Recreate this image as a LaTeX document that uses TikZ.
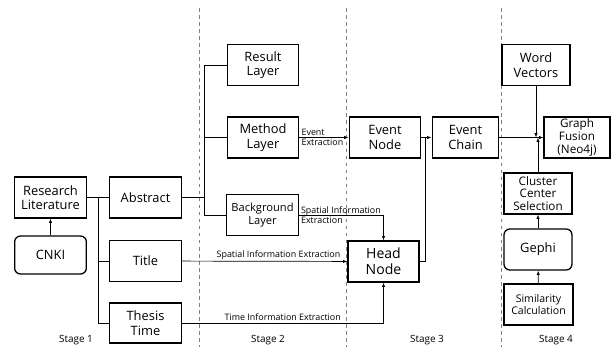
\documentclass[tikz,border=0pt]{standalone}
\usepackage{fontspec}
\setmainfont{Open Sans}
\usetikzlibrary{arrows.meta,positioning,calc}

\begin{document}
\begin{tikzpicture}[
  box/.style={rectangle,draw,line width=1.1pt,minimum width=2.15cm,minimum height=1.23cm,inner sep=1pt,align=center,font=\fontsize{11}{12.5}\selectfont},
  rbox/.style={box,rounded corners=5pt},
  lbl/.style={font=\fontsize{7.6}{8.2}\selectfont,inner sep=1.5pt,align=left},
  stagelbl/.style={font=\fontsize{8.5}{9}\selectfont},
  line/.style={line width=0.6pt},
  arrow/.style={line,-{Latex[length=1.3mm,width=1mm]}},
  sep/.style={dashed,gray,line width=0.4pt}
]
\useasboundingbox (0,0) rectangle (18.33,-10.41);
% stage separators
\draw[sep] (5.97,-0.24) -- (5.97,-10.41);
\draw[sep] (10.38,-0.24) -- (10.38,-10.41);
\draw[sep] (15.03,-0.24) -- (15.03,-10.41);
% stage 1
\node[box] (rl) at (1.515,-5.925) {Research\\Literature};
\node[rbox,minimum height=1.14cm] (cnki) at (1.515,-7.65) {CNKI};
\node[box] (abs) at (4.365,-5.925) {Abstract};
\node[box] (title) at (4.365,-7.83) {Title};
\node[box,minimum height=1.2cm] (thesis) at (4.365,-9.69) {Thesis\\Time};
% stage 2
\node[box] (result) at (7.89,-1.95) {Result\\Layer};
\node[box] (method) at (7.89,-4.125) {Method\\Layer};
\node[box,font=\fontsize{9.5}{11}\selectfont] (bg) at (7.875,-6.45) {Background\\Layer};
% stage 3
\node[box] (evnode) at (11.55,-4.125) {Event\\Node};
\node[box,minimum width=2.13cm,font=\fontsize{12}{13.5}\selectfont] (head) at (11.505,-7.845) {Head\\Node};
\node[box,minimum width=2.0cm] (chain) at (13.965,-4.125) {Event\\Chain};
% stage 4
\node[box,minimum width=2.04cm] (wv) at (16.08,-1.95) {Word\\Vectors};
\node[box,minimum width=1.98cm,font=\fontsize{10}{11}\selectfont] (gf) at (17.31,-4.125) {Graph\\Fusion\\(Neo4j)};
\node[box,minimum width=2.04cm,font=\fontsize{10}{11}\selectfont] (ccs) at (16.14,-5.805) {Cluster\\Center\\Selection};
\node[rbox,minimum width=2.04cm] (gephi) at (16.14,-7.485) {Gephi};
\node[box,minimum width=2.07cm,font=\fontsize{9}{10.5}\selectfont] (sim) at (16.155,-9.135) {Similarity\\Calculation};
% junctions
\coordinate (t1) at (2.94,-5.925);
\coordinate (t2) at (6.12,-5.925);
\coordinate (j3) at (12.75,-4.125);
\coordinate (m) at (16.14,-4.125);
% connectors
\draw[arrow] (cnki) -- (rl);
\draw[line] (rl) -- (abs);
\draw[line] (t1) |- (title);
\draw[line] (t1) |- (thesis);
\draw[line] (abs) -- (t2);
\draw[line] (t2) |- (result);
\draw[line] (t2) |- (method);
\draw[line] (t2) |- (bg);
\draw[arrow] (method) -- node[lbl,anchor=west,pos=0] {Event\\Extraction} (evnode);
\draw[arrow] (bg) -| node[lbl,anchor=west,pos=0] {Spatial Information\\Extraction} (head);
\draw[arrow] (title) -- node[lbl,anchor=south east,pos=0.97] {Spatial Information Extraction} (head);
\draw[arrow] (thesis) -| node[lbl,above,pos=0.25] {Time Information Extraction} (head);
\draw[arrow] (evnode) -- (chain);
\draw[line] (head) -| (j3);
\draw[arrow] (chain) -- (gf);
\draw[arrow] (wv) -- (wv |- m);
\draw[arrow] (ccs) -- (ccs |- m);
\draw[arrow] (sim) -- (gephi);
\draw[arrow] (gephi) -- (ccs);
% stage labels
\node[stagelbl] (s1) at (2.28,-10.2) {Stage 1};
\node[stagelbl] (s2) at (8.04,-10.2) {Stage 2};
\node[stagelbl] (s3) at (12.81,-10.2) {Stage 3};
\node[stagelbl] (s4) at (16.68,-10.2) {Stage 4};
\end{tikzpicture}
\end{document}
